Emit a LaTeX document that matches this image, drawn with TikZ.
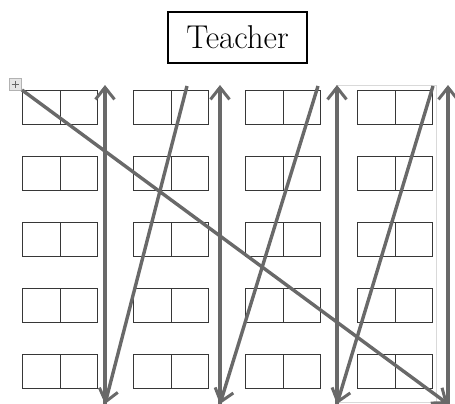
\documentclass[tikz,border=0pt]{standalone}
\usetikzlibrary{arrows.meta}

\definecolor{pathgray}{RGB}{105,105,105}
\definecolor{deskgray}{RGB}{55,55,55}
\tikzset{
  desk/.style={draw=deskgray, line width=1.3pt, minimum width=75pt, minimum height=34pt, inner sep=0pt, anchor=north west},
  walk/.style={draw=pathgray, line width=3.4pt, -{Straight Barb[length=12pt, width=19pt, line width=3pt]}}
}

\begin{document}
\begin{tikzpicture}[x=1pt, y=-1pt]
  \useasboundingbox (0,0) rectangle (455,404);
  \node[draw, line width=1.6pt, minimum width=139pt, minimum height=51pt, font=\fontsize{33}{38}\selectfont] (teacher) at (237.5,37.5) {Teacher};
  % light frame round the last column
  \draw[gray!30, line width=0.8pt] (336,85) rectangle (436,402);
  % desks
  \foreach \c/\x in {1/22, 2/133, 3/245, 4/357} {
    \foreach \r in {1,...,5} {
      \node[desk] (d\c\r) at (\x,{90+66*(\r-1)}) {};
      \draw[deskgray, line width=1.3pt] (d\c\r.north) -- (d\c\r.south);
    }
  }
  % handle
  \draw[gray!60, fill=gray!20, line width=0.6pt] (9,78) rectangle (21,90);
  \draw[gray!80!black, line width=0.7pt] (11.5,84) -- (18.5,84) (15,80.5) -- (15,87.5);
  % ends of the walk
  \coordinate (start) at (22,90);
  \foreach \k/\x/\tx in {1/105/105, 2/220/187, 3/337/318, 4/448/433} {
    \coordinate (b\k) at (\x,404);
    \coordinate (t\k) at (\x,85);
    \coordinate (s\k) at (\tx,86);
  }
  \draw[walk] (start) -- (b4);
  \draw[walk] (b4) -- (t4);
  \draw[walk] (s4) -- (b3);
  \draw[walk] (b3) -- (t3);
  \draw[walk] (s3) -- (b2);
  \draw[walk] (b2) -- (t2);
  \draw[walk] (s2) -- (b1);
  \draw[walk] (b1) -- (t1);
\end{tikzpicture}
\end{document}
